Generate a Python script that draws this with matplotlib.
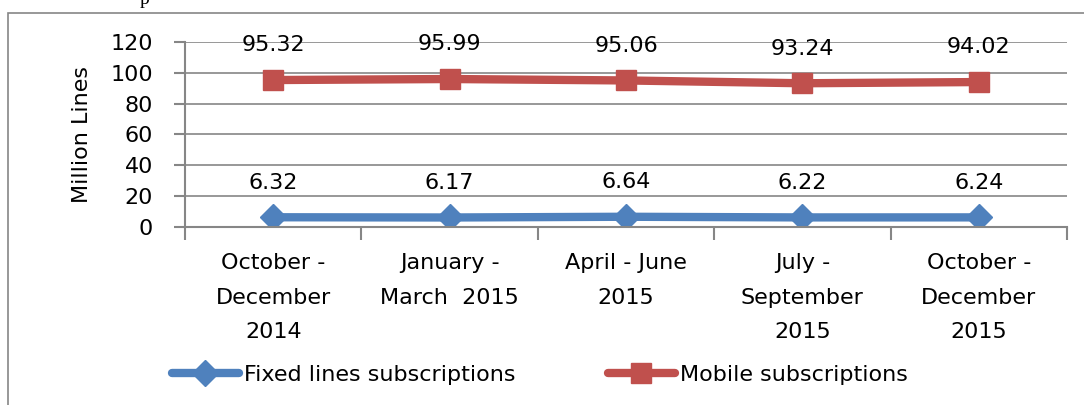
import matplotlib
matplotlib.use("Agg")
import matplotlib.pyplot as plt
from matplotlib.lines import Line2D
from matplotlib.patches import Rectangle

categories = ["October -\nDecember\n2014", "January -\nMarch  2015", "April - June\n2015",
              "July -\nSeptember\n2015", "October -\nDecember\n2015"]
fixed = [6.32, 6.17, 6.64, 6.22, 6.24]
mobile = [95.32, 95.99, 95.06, 93.24, 94.02]
yticks = [0, 20, 40, 60, 80, 100, 120]

W, H = 1084, 405
fig = plt.figure(figsize=(W / 100, H / 100), dpi=100)
plt.rcParams['font.family'] = ['DejaVu Sans']
FS = 16

# outer border
fig.patches.append(Rectangle((8 / W, -0.01), 1.2, (H - 13) / H + 0.01, transform=fig.transFigure,
                             fill=False, edgecolor='#868686', linewidth=1.2))
fig.text(145 / W, 1.0, "p", fontsize=14, ha='center', va='center', family='Liberation Serif')

left, right, top, bottom = 185, 1067, 42, 227
ax = fig.add_axes([left / W, 1 - bottom / H, (right - left) / W, (bottom - top) / H])
x = list(range(len(categories)))
blue = '#4F81BD'
red = '#C0504D'
ax.plot(x, fixed, color=blue, linewidth=6, marker='D', markersize=13, solid_capstyle='round')
ax.plot(x, mobile, color=red, linewidth=6, marker='s', markersize=14, solid_capstyle='round')
for i in x:
    ax.annotate(f"{fixed[i]:.2f}", (i, fixed[i]), xytext=(0, 25), textcoords='offset points',
                ha='center', va='center', fontsize=FS)
    ax.annotate(f"{mobile[i]:.2f}", (i, mobile[i]), xytext=(0, 25), textcoords='offset points',
                ha='center', va='center', fontsize=FS)

ax.set_xlim(-0.5, len(categories) - 0.5)
ax.set_ylim(0, 120)
ax.set_yticks(yticks)
ax.set_yticklabels([str(v) for v in yticks], fontsize=FS)
ax.set_xticks(x)
ax.set_xticklabels(categories, fontsize=FS, linespacing=1.9)
ax.set_xticks([i - 0.5 for i in range(len(categories) + 1)], minor=True)
ax.tick_params(axis='x', which='major', length=0, pad=19)
ax.tick_params(axis='x', which='minor', length=9, color='#868686', width=1.5)
ax.tick_params(axis='y', length=8, color='#868686', width=1.5, pad=15)
ax.grid(axis='y', color='#868686', linewidth=1.2)
ax.set_axisbelow(True)
for s in ['top', 'right']:
    ax.spines[s].set_visible(False)
for s in ['left', 'bottom']:
    ax.spines[s].set_color('#868686')
    ax.spines[s].set_linewidth(1.5)
ax.set_facecolor('none')
ax.set_ylabel("Million Lines", fontsize=FS, labelpad=13)

handles = [Line2D([], [], color=blue, linewidth=6, marker='D', markersize=13, solid_capstyle='round'),
           Line2D([], [], color=red, linewidth=6, marker='s', markersize=14, solid_capstyle='round')]
fig.legend(handles, ["Fixed lines subscriptions", "Mobile subscriptions"], loc='center left',
           bbox_to_anchor=(172 / W, 1 - 375 / H), ncol=2, frameon=False, fontsize=FS,
           handlelength=3.0, handletextpad=0.25, columnspacing=4.15, borderpad=0, borderaxespad=0)

fig.savefig("out.png", dpi=100)
